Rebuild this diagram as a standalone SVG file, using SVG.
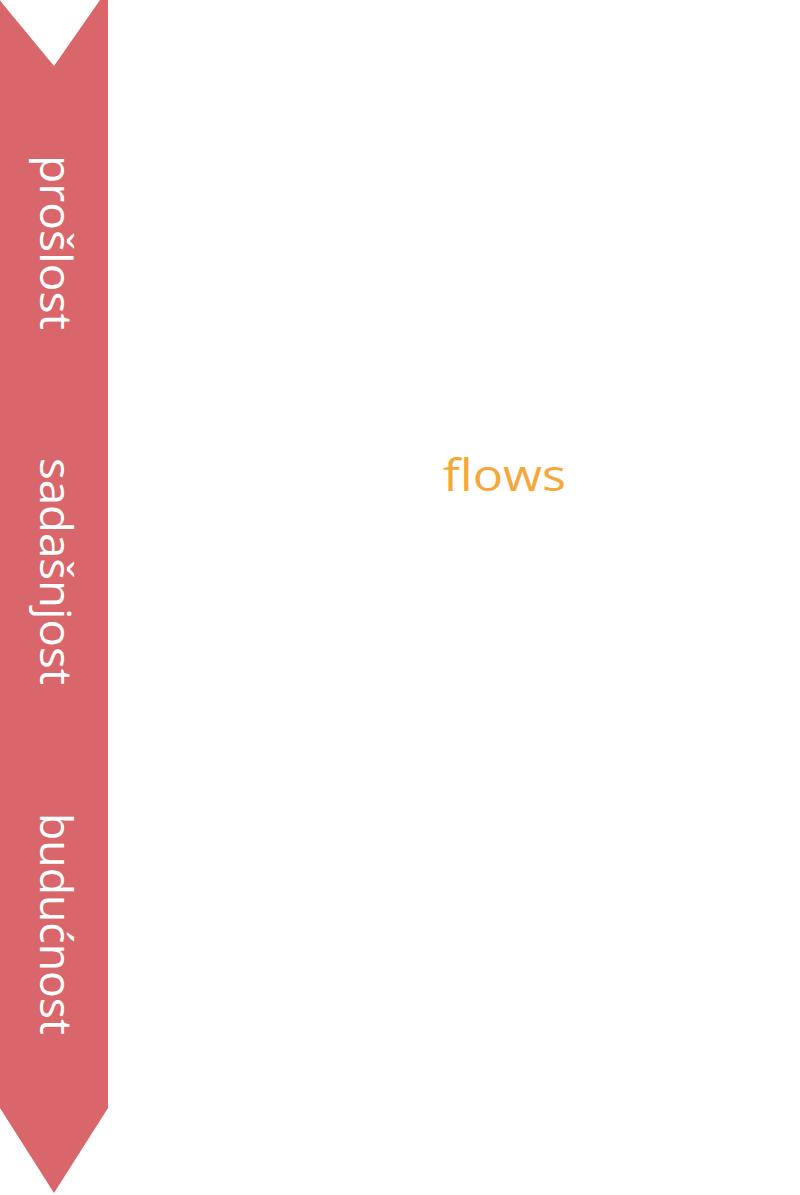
<svg xmlns="http://www.w3.org/2000/svg" width="800" height="1195" viewBox="0 0 800 1195">
  <style>
    .band { fill: #D9666A; }
    .lbl { font-family: "Open Sans", "Noto Sans", "Liberation Sans", sans-serif; font-size: 44px; fill: #FFFFFF; }
    .flow { font-family: "Open Sans", "Noto Sans", "Liberation Sans", sans-serif; font-size: 44px; fill: #F5A83A; }
  </style>
  <rect width="800" height="1195" fill="#FFFFFF"/>
  <g id="timeline">
    <polygon class="band" points="0,0 2,3 54,66 100,0 108,0 108,1108 54,1193 0,1108"/>
  </g>
  <g id="past">
    <text class="lbl" transform="translate(40,155) rotate(90)" textLength="175" lengthAdjust="spacingAndGlyphs">prošlost</text>
  </g>
  <g id="present">
    <text class="lbl" transform="translate(40,458) rotate(90)" textLength="227" lengthAdjust="spacingAndGlyphs">sadašnjost</text>
  </g>
  <g id="future">
    <text class="lbl" transform="translate(40,813) rotate(90)" textLength="222" lengthAdjust="spacingAndGlyphs">budućnost</text>
  </g>
  <g id="flows">
    <text class="flow" x="443" y="491" textLength="123" lengthAdjust="spacingAndGlyphs">flows</text>
  </g>
  <g id="connectors"></g>
</svg>
